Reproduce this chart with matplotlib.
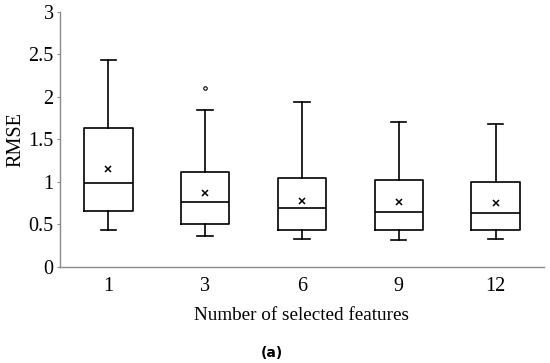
import matplotlib

matplotlib.use("Agg")
import matplotlib.pyplot as plt

# --- Data ---
features = ["1", "3", "6", "9", "12"]
whisker_low = [0.435, 0.36, 0.33, 0.32, 0.33]
q1 = [0.655, 0.51, 0.435, 0.435, 0.435]
median = [0.99, 0.77, 0.69, 0.65, 0.63]
q3 = [1.64, 1.12, 1.05, 1.02, 1.00]
whisker_high = [2.43, 1.85, 1.94, 1.70, 1.68]
mean = [1.15, 0.87, 0.78, 0.76, 0.75]
outliers = [[], [2.11], [], [], []]

plt.rcParams["font.family"] = ["Liberation Serif", "DejaVu Serif"]

fig = plt.figure(figsize=(5.5, 3.63), dpi=100)
ax = fig.add_axes([0.109, 0.2645, 0.88, 0.7025])

stats = []
for i, name in enumerate(features):
    stats.append({
        "label": name,
        "whislo": whisker_low[i],
        "q1": q1[i],
        "med": median[i],
        "q3": q3[i],
        "whishi": whisker_high[i],
        "mean": mean[i],
        "fliers": outliers[i],
    })

lw = 1.2
ax.bxp(
    stats,
    positions=range(1, len(features) + 1),
    widths=0.5,
    showmeans=True,
    showfliers=True,
    boxprops=dict(color="black", linewidth=lw),
    medianprops=dict(color="black", linewidth=lw),
    whiskerprops=dict(color="black", linewidth=lw),
    capprops=dict(color="black", linewidth=lw),
    capwidths=0.16,
    meanprops=dict(marker="x", markeredgecolor="black", markersize=4, markeredgewidth=1.1),
    flierprops=dict(marker="o", markerfacecolor="none", markeredgecolor="black",
                    markersize=2.5, markeredgewidth=0.8),
)

ax.set_xlim(0.5, 5.5)
ax.set_ylim(0, 3)
ax.set_yticks([0, 0.5, 1, 1.5, 2, 2.5, 3])
ax.set_yticklabels(["0", "0.5", "1", "1.5", "2", "2.5", "3"])
ax.tick_params(axis="both", labelsize=14.5, color="#8c8c8c")
ax.tick_params(axis="y", length=2.5, width=0.8, pad=2)
ax.tick_params(axis="x", length=0, pad=7)

for side in ["top", "right"]:
    ax.spines[side].set_visible(False)
for side in ["left", "bottom"]:
    ax.spines[side].set_color("#8c8c8c")
    ax.spines[side].set_linewidth(1.0)

ax.set_ylabel("RMSE", fontsize=14.5)
ax.yaxis.set_label_coords(-0.072, 0.5)
ax.set_xlabel("Number of selected features", fontsize=13.8, labelpad=8)

fig.text(0.495, 0.028, "(a)", ha="center", va="center", fontsize=10,
         fontweight="bold", family="DejaVu Sans")

fig.savefig("out.png", dpi=100)
